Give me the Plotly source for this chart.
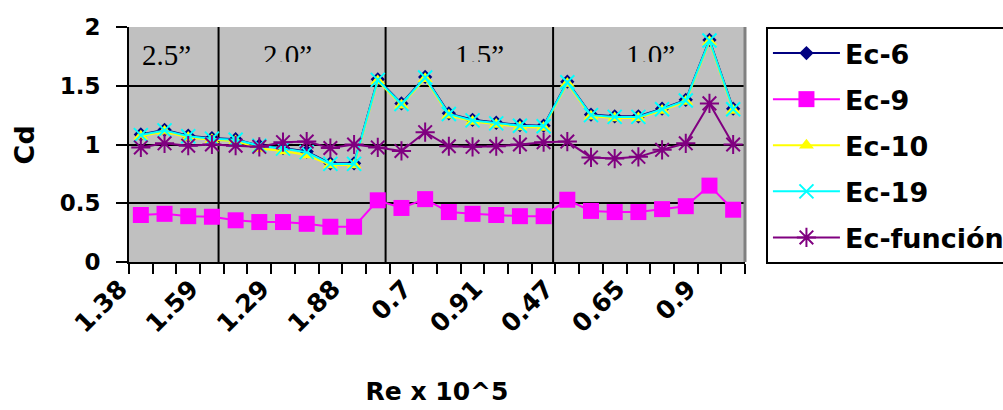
import plotly.graph_objects as go

# ---- data ----
idx = list(range(26))
tick_positions = [0, 3, 6, 9, 12, 15, 18, 21, 24]
tick_labels = ["1.38", "1.59", "1.29", "1.88", "0.7", "0.91", "0.47", "0.65", "0.9"]

ec6 = [1.085, 1.125, 1.075, 1.055, 1.045, 0.99, 0.97, 0.94, 0.84, 0.84, 1.555, 1.35, 1.575,
       1.265, 1.21, 1.185, 1.165, 1.16, 1.535, 1.255, 1.24, 1.24, 1.305, 1.38, 1.89, 1.305]
ec9 = [0.40, 0.41, 0.39, 0.385, 0.355, 0.34, 0.34, 0.325, 0.30, 0.30, 0.525, 0.46, 0.535,
       0.425, 0.41, 0.40, 0.39, 0.39, 0.53, 0.435, 0.425, 0.425, 0.45, 0.475, 0.65, 0.445]
ec10 = [1.07, 1.11, 1.06, 1.04, 1.03, 0.965, 0.945, 0.91, 0.825, 0.825, 1.54, 1.335, 1.56,
        1.25, 1.195, 1.17, 1.15, 1.145, 1.52, 1.24, 1.225, 1.225, 1.29, 1.365, 1.875, 1.29]
ec19 = [1.08, 1.12, 1.07, 1.05, 1.04, 0.99, 0.965, 0.935, 0.835, 0.835, 1.55, 1.345, 1.57,
        1.26, 1.205, 1.18, 1.16, 1.155, 1.53, 1.25, 1.235, 1.235, 1.30, 1.375, 1.885, 1.30]
ecf = [0.975, 1.01, 0.99, 1.0, 0.99, 0.98, 1.02, 1.025, 0.97, 1.0, 0.975, 0.945, 1.105,
       0.985, 0.98, 0.985, 1.0, 1.02, 1.025, 0.89, 0.88, 0.895, 0.955, 1.01, 1.35, 1.0]

section_labels = ["2.5\u201d", "2.0\u201d", "1.5\u201d", "1.0\u201d"]
section_centers = [1.1, 6.2, 14.3, 21.5]
section_bounds = [3.28, 10.33, 17.4]

SANS = "DejaVu Sans"

fig = go.Figure()

def add(name, y, color, symbol, size, lw=2, mline=0):
    fig.add_trace(go.Scatter(
        x=idx, y=y, name=name, mode="lines+markers", legendgroup=name,
        line=dict(color=color, width=lw),
        marker=dict(color=color, symbol=symbol, size=size,
                    line=dict(color=color, width=mline)),
    ))

add("Ec-6", ec6, "#000080", "diamond", 11)
add("Ec-9", ec9, "#FF00FF", "square", 16)
add("Ec-10", ec10, "#FFFF00", "triangle-up", 13)
add("Ec-19", ec19, "#00FFFF", "x-thin-open", 14, mline=2)
add("Ec-función", ecf, "#800080", "asterisk-open", 16, mline=2)

shapes = []
for b in section_bounds:
    shapes.append(dict(type="line", xref="x", yref="paper", x0=b, x1=b, y0=0, y1=1,
                       line=dict(color="black", width=2), layer="below"))
shapes.append(dict(type="line", xref="paper", yref="paper", x0=1, x1=1, y0=0, y1=1,
                   line=dict(color="#808080", width=3)))

annotations = []
for i, (lab, cx) in enumerate(zip(section_labels, section_centers)):
    annotations.append(dict(x=cx, y=1, xref="x", yref="paper", yanchor="top", yshift=-10,
                            text=lab, showarrow=False, valign="top",
                            height=(30 if i == 0 else 23),
                            font=dict(family="Liberation Serif", size=29, color="black")))
# y-axis title
annotations.append(dict(x=-0.169, y=0.5, xref="paper", yref="paper", text="Cd",
                        textangle=-90, showarrow=False, xanchor="center", yanchor="middle",
                        font=dict(family=SANS, size=27, color="black", weight="bold")))

fig.update_layout(
    width=1003, height=410,
    margin=dict(l=129, r=258, t=27, b=148, autoexpand=False),
    paper_bgcolor="white", plot_bgcolor="#C0C0C0",
    shapes=shapes, annotations=annotations,
    showlegend=True,
    legend=dict(x=1.034, y=1, xanchor="left", yanchor="top",
                bgcolor="white", bordercolor="black", borderwidth=2,
                font=dict(family=SANS, size=27, color="black", weight="bold"),
                tracegroupgap=8, itemwidth=67, maxheight=400),
    xaxis=dict(
        range=[-0.5, 25.5], tickmode="array", tickvals=tick_positions, ticktext=tick_labels,
        tickangle=-45, ticks="", showgrid=False, zeroline=False,
        showline=True, linecolor="black", linewidth=2,
        tickfont=dict(family=SANS, size=25, color="black", weight="bold"),
        ticklabelstandoff=0, ticklabelshift=-21,
        minor=dict(tickvals=[i - 0.5 for i in range(27)], ticks="outside", ticklen=10,
                   tickwidth=2, tickcolor="black", showgrid=False),
        title=dict(text="Re x 10^5", standoff=45,
                   font=dict(family=SANS, size=25, color="black", weight="bold")),
    ),
    yaxis=dict(
        range=[0, 2], tickmode="array", tickvals=[0, 0.5, 1, 1.5, 2],
        ticktext=["0", "0.5", "1", "1.5", "2"],
        ticks="outside", ticklen=11, tickwidth=2, tickcolor="black",
        showgrid=True, gridcolor="black", gridwidth=2, zeroline=False,
        showline=True, linecolor="black", linewidth=2,
        tickfont=dict(family=SANS, size=23, color="black", weight="bold"),
        ticklabelstandoff=11,
    ),
)

fig.write_html("out.html", config={"displayModeBar": False},
               post_script="document.body.style.margin='0';")
